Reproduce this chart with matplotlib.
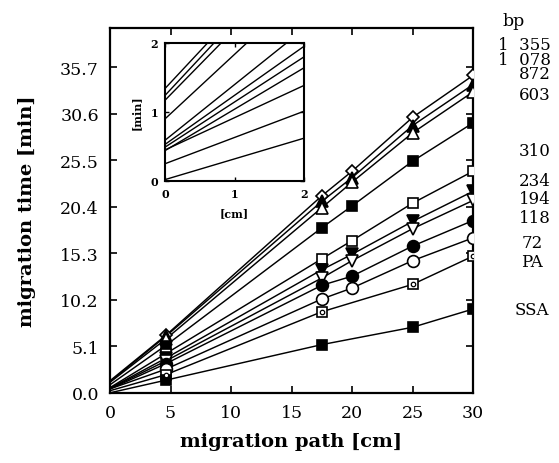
import numpy as np
import matplotlib
matplotlib.use("Agg")
import matplotlib.pyplot as plt

plt.rcParams["font.family"] = "DejaVu Serif"

# fragment sizes (bp) and standards
bp_labels = ["1  355", "1  078", "872", "603", "310", "234", "194", "118", "72", "PA", "SSA"]

# migration path (cm); 0 is the injection end
path_cm = [0, 4.6, 17.5, 20, 25, 30]

# migration times (min), nan = not measured at that detector
nan = np.nan
t_1355 = [1.34, 6.3, 21.6, 24.3, 30.2, 34.8]
t_1078 = [1.24, 6.2, 21.0, 23.6, 29.3, 33.8]
t_872 = [1.17, 5.9, 20.3, 23.1, 28.5, 33.0]
t_603 = [0.90, 5.2, 18.1, 20.5, 25.4, 29.6]
t_310 = [0.59, 4.3, 14.7, 16.7, 20.8, 24.3]
t_234 = [0.53, 3.8, 13.5, 15.2, 18.8, 22.1]
t_194 = [0.49, 3.5, 12.6, 14.5, 18.0, 21.1]
t_118 = [0.44, 3.2, 11.8, 12.8, 16.1, 18.9]
t_72 = [0.45, 2.6, 10.3, 11.5, 14.5, 17.0]
t_pa = [0.25, 2.0, 8.9, nan, 11.9, 15.0]
t_ssa = [0.02, 1.4, 5.3, nan, 7.2, 9.2]

series = [t_1355, t_1078, t_872, t_603, t_310, t_234, t_194, t_118, t_72, t_pa, t_ssa]

# marker shape, filled?, size
styles = [("D", False, 6.5), ("^", True, 8.5), ("^", False, 8.5), ("s", True, 7.5),
          ("s", False, 7.5), ("v", True, 8.5), ("v", False, 8.5), ("o", True, 8.5),
          ("o", False, 8.5), ("s", False, 6.5), ("s", True, 7.5)]

# where the remaining bp labels sit on the right (y in minutes)
label_y = [32.7, 26.6, 23.3, 21.3, 19.2, 16.5, 14.4, 9.1]
label_ha = ["right"] * 5 + ["center"] * 3

fig = plt.figure(figsize=(5.59, 4.64), dpi=100)
ax = fig.add_axes([0.1968, 0.1509, 0.6494, 0.7866])

for t, (m, filled, ms) in zip(series, styles):
    x = np.array(path_cm, dtype=float)
    y = np.array(t, dtype=float)
    ok = ~np.isnan(y)
    x, y = x[ok], y[ok]
    ax.plot(x, y, color="black", lw=1.05, zorder=2)
    ax.plot(x[1:], y[1:], ls="none", marker=m, ms=ms, mew=1.2,
            mec="black", mfc="black" if filled else "white", zorder=3)
    if t is t_pa:
        ax.plot(x[1:], y[1:], ls="none", marker="o", ms=3.2, mew=0.9,
                mec="black", mfc="white", zorder=4)

ax.set_xlim(0, 30)
ax.set_ylim(0, 40)
ax.set_xticks([0, 5, 10, 15, 20, 25, 30])
ax.set_yticks([0.0, 5.1, 10.2, 15.3, 20.4, 25.5, 30.6, 35.7])
ax.set_yticklabels(["0.0", "5.1", "10.2", "15.3", "20.4", "25.5", "30.6", "35.7"])
ax.tick_params(direction="in", length=5, width=1.2, top=True, right=True,
               labelsize=12.5, pad=8)
for s in ax.spines.values():
    s.set_linewidth(1.6)

ax.set_xlabel("migration path [cm]", fontsize=14, fontweight="bold", labelpad=8)
ax.set_ylabel("migration time [min]", fontsize=14, fontweight="bold", labelpad=17)

trans = ax.get_yaxis_transform()
ax.text(1.113, 40.8, "bp", transform=trans, ha="center", va="center",
        fontsize=12.5, clip_on=False)
# the three largest fragments are stacked tightly as one block
ax.text(1.215, 36.6, "\n".join(bp_labels[:3]), transform=trans, ha="right",
        va="center", ma="right", fontsize=12, linespacing=0.78, clip_on=False)
for lab, yy, ha in zip(bp_labels[3:], label_y, label_ha):
    xx = 1.215 if ha == "right" else 1.1625
    ax.text(xx, yy, lab, transform=trans, ha=ha, va="center",
            fontsize=12, clip_on=False)

# close-up of the start of the lines
ins = fig.add_axes([0.2952, 0.6078, 0.2486, 0.2974])
for t in series:
    x = np.array(path_cm, dtype=float)
    y = np.array(t, dtype=float)
    ok = ~np.isnan(y)
    ins.plot(x[ok], y[ok], color="black", lw=1.0)
ins.set_xlim(0, 2)
ins.set_ylim(0, 2)
ins.set_xticks([0, 1, 2])
ins.set_yticks([0, 1, 2])
ins.tick_params(direction="in", length=3, width=1.0, top=True, right=True,
                labelsize=8, pad=5)
for lab in ins.get_xticklabels() + ins.get_yticklabels():
    lab.set_fontweight("bold")
for s in ins.spines.values():
    s.set_linewidth(1.5)
ins.set_xlabel("[cm]", fontsize=8, fontweight="bold", labelpad=6)
ins.set_ylabel("[min]", fontsize=8, fontweight="bold", labelpad=6)

fig.savefig("out.png", dpi=100)
